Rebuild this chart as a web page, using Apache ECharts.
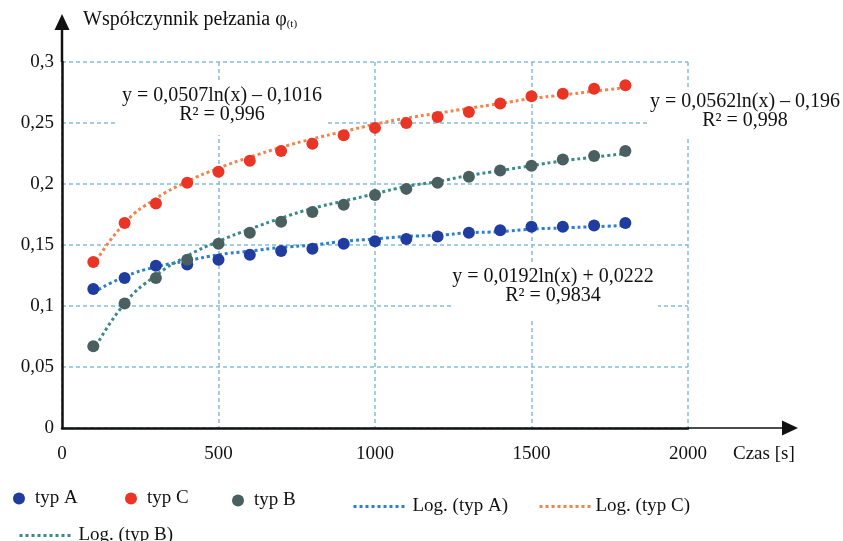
<!DOCTYPE html>
<html>
<head>
<meta charset="utf-8">
<script src="https://cdn.jsdelivr.net/npm/echarts@6/dist/echarts.min.js"></script>
<style>
  html, body { margin: 0; padding: 0; background: #fff; }
  #chart { width: 843px; height: 541px; }
</style>
</head>
<body>
<div id="chart"></div>
<script>
// czas [s]
var times = [100, 200, 300, 400, 500, 600, 700, 800, 900, 1000, 1100, 1200, 1300, 1400, 1500, 1600, 1700, 1800]

// punkty pomiarowe
var typA = [0.114, 0.123, 0.133, 0.134, 0.138, 0.142, 0.145, 0.147, 0.151, 0.153, 0.155, 0.157, 0.160, 0.162, 0.165, 0.165, 0.166, 0.168]
var typC = [0.136, 0.168, 0.184, 0.201, 0.210, 0.219, 0.227, 0.233, 0.240, 0.246, 0.250, 0.255, 0.259, 0.266, 0.272, 0.274, 0.278, 0.281]
var typB = [0.067, 0.102, 0.123, 0.138, 0.151, 0.160, 0.169, 0.177, 0.183, 0.191, 0.196, 0.201, 0.206, 0.211, 0.215, 0.220, 0.223, 0.227]

// linie trendu
var logA = [0.111, 0.124, 0.132, 0.137, 0.142, 0.145, 0.148, 0.150, 0.153, 0.155, 0.157, 0.158, 0.160, 0.161, 0.163, 0.164, 0.165, 0.166]
var logC = [0.133, 0.168, 0.188, 0.202, 0.213, 0.222, 0.230, 0.237, 0.243, 0.249, 0.254, 0.258, 0.262, 0.266, 0.270, 0.273, 0.276, 0.279]
var logB = [0.063, 0.102, 0.125, 0.141, 0.153, 0.163, 0.172, 0.180, 0.186, 0.192, 0.198, 0.202, 0.207, 0.211, 0.215, 0.219, 0.222, 0.225]

var xTicks = [0, 500, 1000, 1500, 2000]
var yTicks = [0, 0.05, 0.1, 0.15, 0.2, 0.25, 0.3]

var FONT = '"Liberation Serif", "DejaVu Serif", serif'

function pairs (vals) {
  return times.map(function (t, i) { return [t, vals[i]] })
}

function fmtY (v) {
  var s = (Math.round(v * 100) / 100).toString()
  return s.replace('.', ',')
}

var chart = echarts.init(document.getElementById('chart'))

function dotted (color) {
  return { color: color, width: 3, type: [3, 3] }
}

// legendy: każda pozycja osobno, żeby trafić w układ z oryginału
var legendItems = [
  { name: 'typ A', left: 8, top: 484, w: 22, pad: 0, line: false },
  { name: 'typ C', left: 120, top: 484, w: 22, pad: 0, line: false },
  { name: 'typ B', left: 227, top: 486, w: 22, pad: 0, line: false },
  { name: 'Log. (typ A)', left: 347, top: 492, w: 53, pad: 1, line: true },
  { name: 'Log. (typ C)', left: 533, top: 492, w: 51, pad: 0, line: true },
  { name: 'Log. (typ B)', left: 13, top: 521, w: 54, pad: 0, line: true }
]

var options = {
  animation: false,
  grid: {
    left: 62,
    right: 155,
    top: 62,
    bottom: 113
  },
  xAxis: {
    type: 'value',
    min: xTicks[0],
    max: xTicks[xTicks.length - 1],
    interval: 500,
    axisLine: {
      show: true,
      lineStyle: { color: '#111', width: 2.5 }
    },
    axisTick: { show: false },
    axisLabel: {
      margin: 17,
      fontFamily: FONT,
      fontSize: 19,
      color: '#111',
      formatter: function (v) { return String(v) }
    },
    splitLine: {
      show: true,
      lineStyle: { color: '#86bcd9', width: 1.5, type: [4, 3] }
    }
  },
  yAxis: {
    type: 'value',
    min: yTicks[0],
    max: yTicks[yTicks.length - 1],
    interval: 0.05,
    axisLine: {
      show: true,
      lineStyle: { color: '#111', width: 2.5 }
    },
    axisTick: { show: false },
    axisLabel: {
      margin: 8,
      fontFamily: FONT,
      fontSize: 19,
      color: '#111',
      formatter: fmtY
    },
    splitLine: {
      show: true,
      lineStyle: { color: '#86bcd9', width: 1.5, type: [4, 3] }
    }
  },
  legend: legendItems.map(function (it) {
    var lg = {
      left: it.left,
      top: it.top,
      data: [it.name],
      itemWidth: it.w,
      itemHeight: 12,
      selectedMode: false,
      textStyle: {
        fontFamily: FONT,
        fontSize: 19,
        color: '#111',
        padding: [0, 0, 0, it.pad]
      }
    }
    if (it.line) {
      lg.itemStyle = { opacity: 0 }
      lg.lineStyle = { width: 3, type: [3, 3] }
    }
    return lg
  }),
  series: [
    {
      name: 'typ A',
      type: 'scatter',
      symbolSize: 12,
      z: 5,
      itemStyle: { color: '#1f3c9e', opacity: 1 },
      data: pairs(typA)
    },
    {
      name: 'typ C',
      type: 'scatter',
      symbolSize: 12,
      z: 5,
      itemStyle: { color: '#ea3526', opacity: 1 },
      data: pairs(typC)
    },
    {
      name: 'typ B',
      type: 'scatter',
      symbolSize: 12,
      z: 5,
      itemStyle: { color: '#4a5f5f', opacity: 1 },
      data: pairs(typB)
    },
    {
      name: 'Log. (typ A)',
      type: 'line',
      smooth: true,
      symbol: 'none',
      z: 3,
      itemStyle: { color: '#2a7fd2' },
      lineStyle: dotted('#2a7fd2'),
      data: pairs(logA)
    },
    {
      name: 'Log. (typ C)',
      type: 'line',
      smooth: true,
      symbol: 'none',
      z: 3,
      itemStyle: { color: '#f3834a' },
      lineStyle: dotted('#f3834a'),
      data: pairs(logC)
    },
    {
      name: 'Log. (typ B)',
      type: 'line',
      smooth: true,
      symbol: 'none',
      z: 3,
      itemStyle: { color: '#3a8a8c' },
      lineStyle: dotted('#3a8a8c'),
      data: pairs(logB)
    }
  ]
}

chart.setOption(options)

// osie ze strzałkami, opisy i równania trendu
var o = chart.convertToPixel({ gridIndex: 0 }, [0, 0])
var xEnd = chart.convertToPixel({ gridIndex: 0 }, [2000, 0])
var yEnd = chart.convertToPixel({ gridIndex: 0 }, [0, 0.3])

function eqBox (x, y, w, h, cx, ty, lines) {
  return {
    type: 'group',
    z: 1,
    children: [
      {
        type: 'rect',
        z: 1,
        shape: { x: x, y: y, width: w, height: h },
        style: { fill: '#fff' }
      },
      {
        type: 'text',
        z: 1,
        x: cx,
        y: ty,
        style: {
          text: lines.join('\n'),
          fontFamily: FONT,
          fontSize: 20,
          lineHeight: 19,
          fill: '#111',
          align: 'center',
          verticalAlign: 'top'
        }
      }
    ]
  }
}

chart.setOption({
  graphic: [
    {
      type: 'line',
      z: 10,
      shape: { x1: o[0], y1: yEnd[1], x2: o[0], y2: 28 },
      style: { stroke: '#111', lineWidth: 2.5 }
    },
    {
      type: 'polygon',
      z: 10,
      shape: { points: [[o[0], 14], [o[0] - 7.5, 30], [o[0] + 7.5, 30]] },
      style: { fill: '#111' }
    },
    {
      type: 'line',
      z: 10,
      shape: { x1: xEnd[0], y1: o[1], x2: 784, y2: o[1] },
      style: { stroke: '#111', lineWidth: 1.5 }
    },
    {
      type: 'polygon',
      z: 10,
      shape: { points: [[798, o[1]], [782, o[1] - 7.5], [782, o[1] + 7.5]] },
      style: { fill: '#111' }
    },
    {
      type: 'text',
      z: 10,
      x: 83,
      y: 9,
      style: {
        text: '{m|Współczynnik pełzania φ}{s|(t)}',
        fill: '#111',
        rich: {
          m: { fontFamily: FONT, fontSize: 20, fill: '#111' },
          s: { fontFamily: FONT, fontSize: 11, fill: '#111', verticalAlign: 'bottom', padding: [10, 0, 0, 0] }
        }
      }
    },
    {
      type: 'text',
      z: 10,
      x: 733,
      y: 445,
      style: { text: 'Czas [s]', fontFamily: FONT, fontSize: 19, fill: '#111' }
    },
    eqBox(118, 83, 208, 52, 222, 86, ['y = 0,0507ln(x) – 0,1016', 'R² = 0,996']),
    eqBox(648, 88, 195, 50, 745, 92, ['y = 0,0562ln(x) – 0,196', 'R² = 0,998']),
    eqBox(452, 262, 206, 56, 553, 267, ['y = 0,0192ln(x) + 0,0222', 'R² = 0,9834'])
  ]
})
</script>
</body>
</html>
